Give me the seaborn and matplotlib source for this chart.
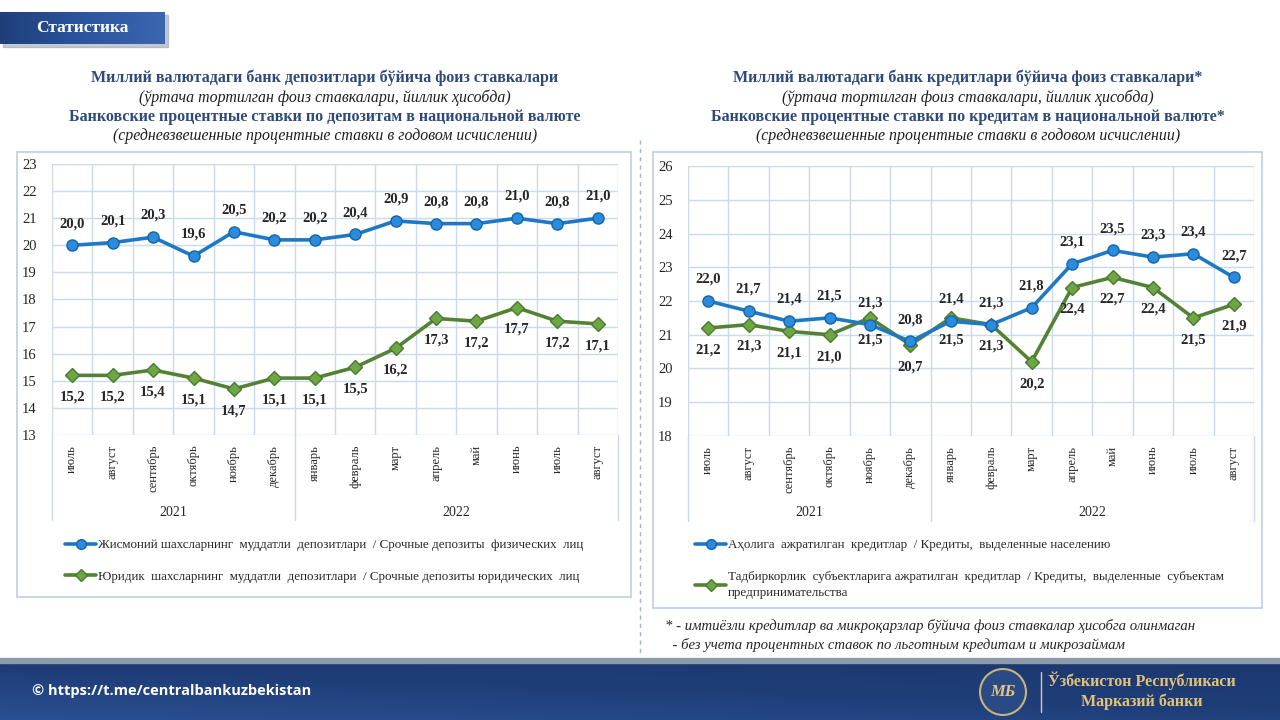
import numpy as np
import pandas as pd
import matplotlib
matplotlib.use("Agg")
import matplotlib.pyplot as plt
import matplotlib.patches as mpatches
import matplotlib.transforms as mtrans
from matplotlib.lines import Line2D
from matplotlib.colors import LinearSegmentedColormap
import seaborn as sns

# ---- data ----
months = ['июль', 'август', 'сентябрь', 'октябрь', 'ноябрь', 'декабрь',
          'январь', 'февраль', 'март', 'апрель', 'май', 'июнь', 'июль', 'август']
years = ['2021', '2022']
year_span = [(0, 5), (6, 13)]

dep_phys = [20.0, 20.1, 20.3, 19.6, 20.5, 20.2, 20.2, 20.4, 20.9, 20.8, 20.8, 21.0, 20.8, 21.0]
dep_jur = [15.2, 15.2, 15.4, 15.1, 14.7, 15.1, 15.1, 15.5, 16.2, 17.3, 17.2, 17.7, 17.2, 17.1]

cred_pop = [22.0, 21.7, 21.4, 21.5, 21.3, 20.8, 21.4, 21.3, 21.8, 23.1, 23.5, 23.3, 23.4, 22.7]
cred_bus = [21.2, 21.3, 21.1, 21.0, 21.5, 20.7, 21.5, 21.3, 20.2, 22.4, 22.7, 22.4, 21.5, 21.9]

left_titles = ['Миллий валютадаги банк депозитлари бўйича фоиз ставкалари',
               '(ўртача тортилган фоиз ставкалари, йиллик ҳисобда)',
               'Банковские процентные ставки по депозитам в национальной валюте',
               '(средневзвешенные процентные ставки в годовом исчислении)']
right_titles = ['Миллий валютадаги банк кредитлари бўйича фоиз ставкалари*',
                '(ўртача тортилган фоиз ставкалари, йиллик ҳисобда)',
                'Банковские процентные ставки по кредитам в национальной валюте*',
                '(средневзвешенные процентные ставки в годовом исчислении)']
left_legend = ['Жисмоний шахсларнинг  муддатли  депозитлари  / Срочные депозиты  физических  лиц',
               'Юридик  шахсларнинг  муддатли  депозитлари  / Срочные депозиты юридических  лиц']
right_legend = ['Аҳолига  ажратилган  кредитлар  / Кредиты,  выделенные населению',
                'Тадбиркорлик  субъектларига ажратилган  кредитлар  / Кредиты,  выделенные  субъектам\nпредпринимательства']
footnote = ['* - имтиёзли кредитлар ва микроқарзлар бўйича фоиз ставкалар ҳисобга олинмаган',
            '  - без учета процентных ставок по льготным кредитам и микрозаймам']

BLUE = '#1F78C4'
BLUE_FILL = '#2B8BDD'
BLUE_EDGE = '#1565A8'
GREEN = '#548235'
GREEN_FILL = '#6EA645'
GREEN_EDGE = '#4A7A2C'
GRID = '#C9DAEA'
TITLE_C = '#2F4A7A'
TXT = '#262626'

sns.set_theme(style='white')
plt.rcParams['font.family'] = ['Liberation Serif', 'DejaVu Serif']

W, H = 1280, 720
fig = plt.figure(figsize=(12.8, 7.2), dpi=100)
fig.patch.set_facecolor('white')


def fx(px):
    return px / W


def fy(py):
    return 1 - py / H


def draw_panel(box, ax_px, a, b, ylim, titles, tcx, legend_labels, leg_x, leg_y):
    # outer box
    x0, y0, x1, y1 = box
    fig.patches.append(mpatches.Rectangle((fx(x0), fy(y1)), fx(x1 - x0), (y1 - y0) / H,
                                          transform=fig.transFigure, fill=False,
                                          edgecolor='#BCCFE2', lw=1.2))
    # titles
    for i, (t, ty) in enumerate(zip(titles, [78, 98, 117, 136])):
        bold = i % 2 == 0
        fig.text(fx(tcx), fy(ty), t, ha='center', va='center',
                 fontsize=11.5 if bold else 11.4, color=TITLE_C if bold else '#1F1F1F',
                 fontweight='bold' if bold else 'normal',
                 fontstyle='normal' if bold else 'italic')

    l, t, r, bt = ax_px
    ax = fig.add_axes([fx(l), fy(bt), fx(r - l), (bt - t) / H])
    df = pd.DataFrame({'x': np.arange(len(months)), 'a': a, 'b': b})
    sns.lineplot(data=df, x='x', y='a', ax=ax, color=BLUE, lw=2.6, marker='o', ms=8,
                 markerfacecolor=BLUE_FILL, markeredgecolor=BLUE_EDGE, markeredgewidth=1, zorder=4)
    sns.lineplot(data=df, x='x', y='b', ax=ax, color=GREEN, lw=2.6, marker='D', ms=7,
                 markerfacecolor=GREEN_FILL, markeredgecolor=GREEN_EDGE, markeredgewidth=1, zorder=3)

    ax.set_xlim(-0.5, len(months) - 0.5)
    ax.set_ylim(*ylim)
    ax.set_yticks(np.arange(ylim[0], ylim[1] + 1, 1))
    ax.set_yticklabels([str(v) for v in range(ylim[0], ylim[1] + 1)], fontsize=10.5, color=TXT)
    ax.set_xticks(np.arange(len(months)))
    ax.set_xticklabels(months, rotation=90, fontsize=9, color=TXT, va='top')
    ax.set_xticks(np.arange(-0.5, len(months)), minor=True)
    ax.tick_params(axis='x', which='major', length=0, pad=7)
    ax.tick_params(axis='x', which='minor', length=5, color=GRID, width=1)
    ax.tick_params(axis='y', length=0, pad=11)
    ax.grid(True, which='minor', axis='x', color=GRID, lw=1)
    ax.grid(True, which='major', axis='y', color=GRID, lw=1)
    ax.set_xlabel('')
    ax.set_ylabel('')
    for s in ax.spines.values():
        s.set_visible(False)

    # data labels
    for i, v in enumerate(a):
        ax.annotate(f'{v:.1f}'.replace('.', ','), (i, v), xytext=(0, 11), textcoords='offset points',
                    ha='center', va='bottom', fontsize=10.5, fontweight='bold', color=TXT)
    for i, v in enumerate(b):
        ax.annotate(f'{v:.1f}'.replace('.', ','), (i, v), xytext=(0, -11), textcoords='offset points',
                    ha='center', va='top', fontsize=10.5, fontweight='bold', color=TXT)

    # year separators and labels
    trans = mtrans.blended_transform_factory(ax.transData, ax.transAxes)
    depth = 85 / (bt - t)
    for xs in [-0.5, 5.5, len(months) - 0.5]:
        ax.add_line(Line2D([xs, xs], [0, -depth], transform=trans, color=GRID, lw=1, clip_on=False))
    for yr, (s0, s1) in zip(years, year_span):
        ax.text((s0 + s1) / 2, -77 / (bt - t), yr, transform=trans, ha='center', va='center',
                fontsize=10, color=TXT)

    # legend
    handles = [Line2D([], [], color=BLUE, lw=2.6, marker='o', ms=7, markerfacecolor=BLUE_FILL,
                      markeredgecolor=BLUE_EDGE),
               Line2D([], [], color=GREEN, lw=2.6, marker='D', ms=6, markerfacecolor=GREEN_FILL,
                      markeredgecolor=GREEN_EDGE)]
    leg = fig.legend(handles, legend_labels, loc='upper left', bbox_to_anchor=(fx(leg_x), fy(leg_y)),
                     frameon=False, fontsize=9.4, handlelength=2.4, handletextpad=0.15,
                     labelspacing=1.5, borderaxespad=0, borderpad=0)
    for txt in leg.get_texts():
        txt.set_color(TXT)
        txt.set_linespacing(1.45)
    return ax


draw_panel((17, 152, 631, 597), (52, 164, 618, 435), dep_phys, dep_jur, (13, 23),
           left_titles, 325, left_legend, 65, 539)
draw_panel((653, 152, 1262, 608), (688, 166, 1254, 436), cred_pop, cred_bus, (18, 26),
           right_titles, 968, right_legend, 695, 539)

# separator between panels
fig.add_artist(Line2D([fx(640), fx(640)], [fy(140), fy(656)], transform=fig.transFigure,
                      color='#9DB7D3', lw=1, ls=(0, (3, 3))))

# footnote
fig.text(fx(665), fy(626), footnote[0], fontsize=10.6, fontstyle='italic', color=TXT, va='center')
fig.text(fx(665), fy(645), footnote[1], fontsize=10.6, fontstyle='italic', color=TXT, va='center')

# header box
grad = np.linspace(0, 1, 256).reshape(1, -1)
hdr_cmap = LinearSegmentedColormap.from_list('hdr', ['#1E3F7A', '#2B559E', '#3A67B0'])
fig.patches.append(mpatches.Rectangle((fx(3), fy(47)), fx(165), 32 / H, transform=fig.transFigure,
                                      color='#9AA5B5', alpha=0.6, zorder=-1))
hax = fig.add_axes([0, fy(44), fx(165), 32 / H])
hax.set_zorder(3)
hax.imshow(grad, aspect='auto', cmap=hdr_cmap, extent=(0, 1, 0, 1))
hax.set_axis_off()
hax.text(0.5, 0.5, 'Статистика', ha='center', va='center', color='white', fontsize=12.5,
         fontweight='bold', transform=hax.transAxes)

# footer band
fig.patches.append(mpatches.Rectangle((0, fy(663)), 1, 5 / H, transform=fig.transFigure,
                                      color='#8C9AAE', zorder=1))
ftr_cmap = LinearSegmentedColormap.from_list('ftr', ['#2A4F92', '#1F3E78', '#1C3770'])
fax = fig.add_axes([0, 0, 1, fy(660)])
vgrad = np.linspace(1, 0, 64).reshape(-1, 1) * np.ones((1, 128))
hgrad = np.linspace(0, 1, 128).reshape(1, -1)
fax.imshow(0.6 * vgrad + 0.4 * hgrad, aspect='auto', cmap=ftr_cmap, extent=(0, 1, 0, 1))
fax.set_xlim(0, 1)
fax.set_ylim(0, 1)
fax.set_axis_off()
fax.text(fx(32), 0.48, '© https://t.me/centralbankuzbekistan', color='white', fontsize=10.5,
         fontweight='bold', family=['Open Sans', 'DejaVu Sans'], va='center', ha='left')

# logo
fig.patches.append(mpatches.Ellipse((fx(1003), fy(692)), 46 / W, 46 / H, transform=fig.transFigure,
                                    facecolor='#2A4A86', edgecolor='#C9B27A', lw=1.5, zorder=5))
fig.text(fx(1003), fy(692), 'МБ', ha='center', va='center', color='#E3C57C', fontsize=12,
         fontweight='bold', fontstyle='italic', zorder=6)
fig.add_artist(Line2D([fx(1041), fx(1041)], [fy(672), fy(712)], transform=fig.transFigure,
                      color='#D9C9A0', lw=1))
fig.text(fx(1142), fy(681), 'Ўзбекистон Республикаси', ha='center', va='center', color='#E2C27A',
         fontsize=11.5, fontweight='bold')
fig.text(fx(1142), fy(702), 'Марказий банки', ha='center', va='center', color='#E2C27A',
         fontsize=11.5, fontweight='bold')

fig.savefig('out.png', dpi=100)
